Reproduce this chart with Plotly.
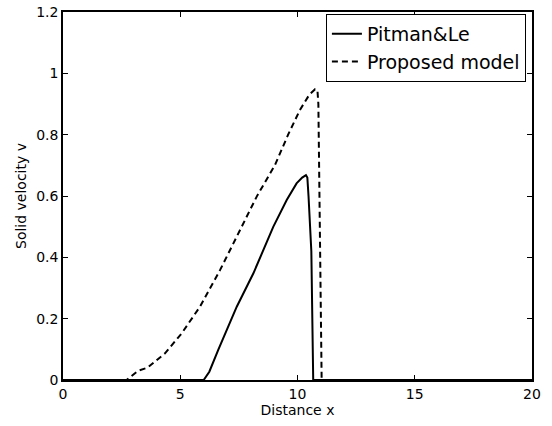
import plotly.graph_objects as go

# Data
pitman_x = [0, 6.0, 6.24, 6.62, 7.41, 8.12, 8.97, 9.54, 9.96, 10.2, 10.36, 10.42, 10.47, 10.59, 10.67, 20]
pitman_y = [0, 0, 0.027, 0.098, 0.239, 0.348, 0.5, 0.587, 0.641, 0.66, 0.668, 0.66, 0.6, 0.42, 0, 0]

proposed_x = [0, 2.71, 3.2, 3.6, 4.35, 5.06, 5.84, 6.7, 7.55, 8.26, 9.04, 9.6, 10.1, 10.5, 10.75, 10.85, 10.89, 11.03, 20]
proposed_y = [0, 0, 0.03, 0.04, 0.087, 0.152, 0.239, 0.359, 0.489, 0.598, 0.701, 0.8, 0.88, 0.93, 0.948, 0.945, 0.9, 0, 0]

x_ticks = [0, 5, 10, 15, 20]
y_ticks = [0, 0.2, 0.4, 0.6, 0.8, 1, 1.2]
y_ticklabels = ["0", "0.2", "0.4", "0.6", "0.8", "1", "1.2"]

FONT = "DejaVu Sans, Arial, Helvetica, sans-serif"

fig = go.Figure()
fig.add_trace(go.Scatter(x=pitman_x, y=pitman_y, mode="lines", name="Pitman&Le",
                         line=dict(color="black", width=2)))
fig.add_trace(go.Scatter(x=proposed_x, y=proposed_y, mode="lines", name="Proposed model",
                         line=dict(color="black", width=2, dash="6px,4px")))

axis_common = dict(showgrid=False, zeroline=False, showline=True, linecolor="black",
                   linewidth=1.5, mirror="ticks", ticks="inside", ticklen=5,
                   tickcolor="black", tickwidth=1, automargin=False,
                   tickfont=dict(family=FONT, size=14, color="black"))

fig.update_xaxes(range=[0, 20], tickvals=x_ticks, ticktext=[str(t) for t in x_ticks],
                 title=dict(text="Distance x", font=dict(family=FONT, size=14, color="black"), standoff=0),
                 **axis_common)
fig.update_yaxes(range=[0, 1.2], tickvals=y_ticks, ticktext=y_ticklabels,
                 title=dict(text="Solid velocity v", font=dict(family=FONT, size=14, color="black"), standoff=6),
                 **axis_common)

fig.update_layout(
    width=552, height=426,
    margin=dict(l=63, r=20, t=12, b=46),
    paper_bgcolor="white", plot_bgcolor="white",
    showlegend=True,
    legend=dict(x=0.987, y=0.995, xanchor="right", yanchor="top",
                bgcolor="white", bordercolor="black", borderwidth=1,
                font=dict(family=FONT, size=19, color="black"),
                tracegroupgap=0, itemwidth=30),
    font=dict(family=FONT, color="black"),
)

fig.write_html("out.html")
